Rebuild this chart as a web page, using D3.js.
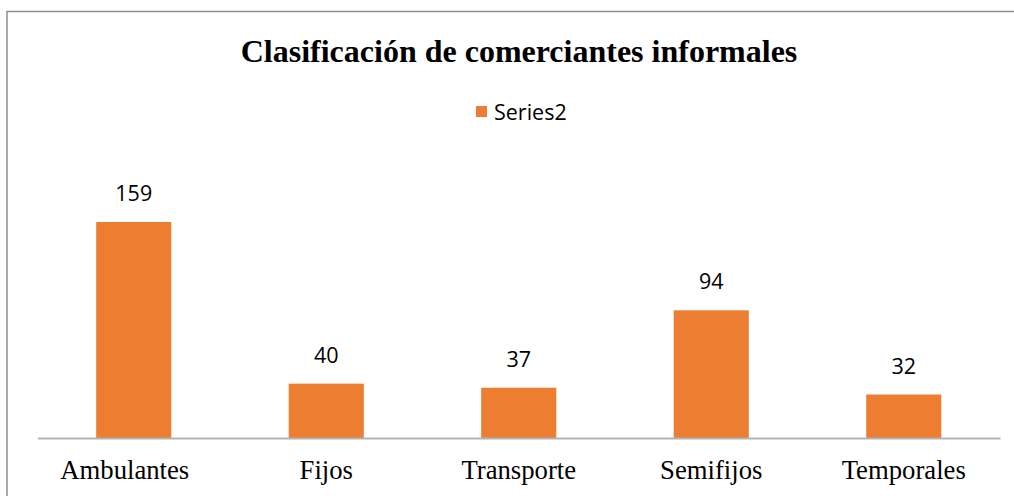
<!DOCTYPE html>
<html>
<head>
<meta charset="utf-8">
<script src="https://cdn.jsdelivr.net/npm/d3@7"></script>
<style>
  html, body { margin: 0; padding: 0; background: #fff; }
  svg { display: block; }
</style>
</head>
<body>
<svg id="chart" width="1014" height="496"></svg>
<script>
// Chart data
const categories = ["Ambulantes", "Fijos", "Transporte", "Semifijos", "Temporales"];
const values = [159, 40, 37, 94, 32];
const seriesName = "Series2";
const titleText = "Clasificación de comerciantes informales";

const W = 1014, H = 496;
const svg = d3.select("#chart");
const barColor = "#ED7D31";
const serif = "'Liberation Serif', 'Times New Roman', serif";
const sans = "'Open Sans', 'Noto Sans', sans-serif";

// Outer chart frame (extends beyond the canvas on right/bottom)
svg.append("rect")
  .attr("x", 7).attr("y", 11.5)
  .attr("width", W + 20).attr("height", H + 20)
  .attr("fill", "#fff")
  .attr("stroke", "#8e8e8e").attr("stroke-width", 1.5);

// Plot area
const plot = { left: 37.5, right: 1000, bottom: 438 };

const x = d3.scaleBand()
  .domain(categories)
  .range([plot.left, plot.right])
  .paddingInner(0.61).paddingOuter(0.305);

const y = d3.scaleLinear()
  .domain([0, 159])
  .range([plot.bottom, 222]);

// Bars
svg.append("g").selectAll("rect")
  .data(values)
  .join("rect")
  .attr("x", (d, i) => x(categories[i]))
  .attr("y", d => y(d))
  .attr("width", x.bandwidth())
  .attr("height", d => y(0) - y(d))
  .attr("fill", barColor);

// Category axis (line only, no ticks)
const xAxis = d3.axisBottom(x).tickSize(0).tickFormat("");
const gx = svg.append("g")
  .attr("transform", `translate(0,${plot.bottom})`)
  .call(xAxis);
gx.select(".domain").attr("stroke", "#b3b3b3").attr("stroke-width", 2);

// Category labels (the first one sits slightly left of its band centre)
svg.append("g").selectAll("text")
  .data(categories)
  .join("text")
  .attr("x", (d, i) => x(d) + x.bandwidth() / 2 + (i === 0 ? -9 : 0))
  .attr("y", 479)
  .attr("text-anchor", "middle")
  .attr("font-family", serif)
  .attr("font-size", 26.7)
  .attr("fill", "#000")
  .text(d => d);

// Data labels
svg.append("g").selectAll("text")
  .data(values)
  .join("text")
  .attr("x", (d, i) => x(categories[i]) + x.bandwidth() / 2)
  .attr("y", d => y(d) - 21)
  .attr("text-anchor", "middle")
  .attr("font-family", sans)
  .attr("font-size", 21.5)
  .attr("fill", "#000")
  .text(d => d);

// Title
svg.append("text")
  .attr("x", 519).attr("y", 62)
  .attr("text-anchor", "middle")
  .attr("font-family", serif)
  .attr("font-weight", "bold")
  .attr("font-size", 32)
  .attr("fill", "#000")
  .text(titleText);

// Legend
const legend = svg.append("g").attr("transform", "translate(476,106)");
legend.append("rect")
  .attr("x", 0).attr("y", 0)
  .attr("width", 11).attr("height", 11)
  .attr("fill", barColor);
legend.append("text")
  .attr("x", 18).attr("y", 13.5)
  .attr("font-family", sans)
  .attr("font-size", 21.5)
  .attr("fill", "#000")
  .text(seriesName);
</script>
</body>
</html>
